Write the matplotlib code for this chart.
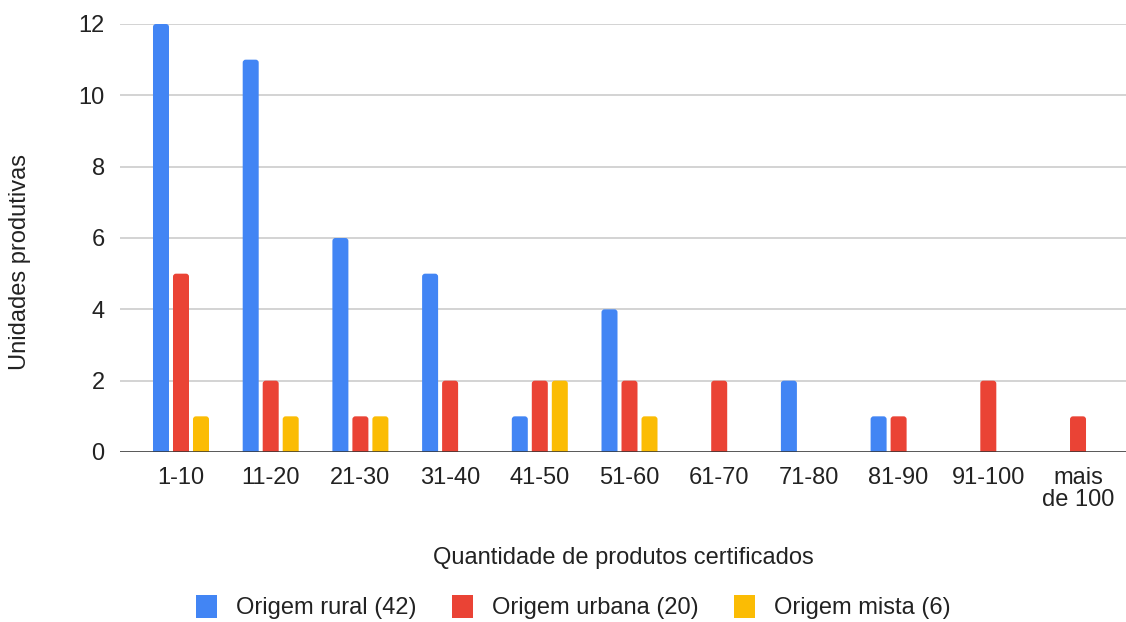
import matplotlib.pyplot as plt
import numpy as np
from matplotlib.patches import FancyBboxPatch, Patch

plt.rcParams['font.family'] = ['Liberation Sans', 'DejaVu Sans']

categorias = ['1-10', '11-20', '21-30', '31-40', '41-50', '51-60',
              '61-70', '71-80', '81-90', '91-100', 'mais\nde 100']
rural = [12, 11, 6, 5, 1, 4, 0, 2, 1, 0, 0]
urbana = [5, 2, 1, 2, 2, 2, 2, 0, 1, 2, 1]
mista = [1, 1, 1, 0, 2, 1, 0, 0, 0, 0, 0]
series = [('Origem rural (42)', rural, '#4285f4'),
          ('Origem urbana (20)', urbana, '#ea4335'),
          ('Origem mista (6)', mista, '#fbbc04')]

W, H = 1126, 622
fs = 17
fig = plt.figure(figsize=(W / 100, H / 100), dpi=100)
ax = fig.add_axes([120 / W, (H - 452) / H, (1126 - 120) / W, (452 - 24) / H])

x = np.arange(len(categorias))
xmin, xmax = -0.68, 10.535
ymin, ymax = 0, 12
ax.set_xlim(xmin, xmax)
ax.set_ylim(ymin, ymax)

# data units per pixel, used to keep the corner rounding circular
px_x = (xmax - xmin) / (1126 - 120)
px_y = (ymax - ymin) / (452 - 24)
largura = 16 * px_x
passo = 20 * px_x
raio = 3 * px_x

for i, (nome, vals, cor) in enumerate(series):
    pos = x + (i - 1) * passo
    for xi, v in zip(pos, vals):
        if v <= 0:
            continue
        # start below zero so only the top corners show as rounded
        p = FancyBboxPatch((xi - largura / 2, -0.3), largura, v + 0.3,
                           boxstyle=f'round,pad=0,rounding_size={raio}',
                           mutation_aspect=px_y / px_x,
                           facecolor=cor, edgecolor='none', zorder=3)
        ax.add_patch(p)

ax.set_yticks(np.arange(0, 13, 2))
ax.yaxis.grid(True, color='#cccccc', linewidth=1.2, zorder=0)
ax.axhline(0, color='#333333', linewidth=1.8, zorder=4)
for s in ax.spines.values():
    s.set_visible(False)
ax.tick_params(axis='y', length=0, pad=11, labelsize=fs, labelcolor='#222222')
ax.set_xticks(x)
ax.set_xticklabels(categorias, fontsize=fs, color='#222222', linespacing=1.0,
                   va='top')
ax.tick_params(axis='x', length=0, pad=11)

ax.set_xlabel('Quantidade de produtos certificados', fontsize=fs,
              color='#222222', labelpad=26)
fig.text(20 / W, 1 - 262 / H, 'Unidades produtivas', rotation=90,
         fontsize=fs, color='#222222', ha='center', va='center')

handles = [Patch(facecolor=c, edgecolor='none', label=n) for n, _, c in series]
fig.legend(handles=handles, loc='center', bbox_to_anchor=(573 / W, 1 - 607 / H),
           ncol=3, frameon=False, fontsize=fs, handlelength=0.9,
           handleheight=1.15, handletextpad=0.8, columnspacing=1.5,
           labelcolor='#222222')

fig.savefig('out.png', dpi=100)
